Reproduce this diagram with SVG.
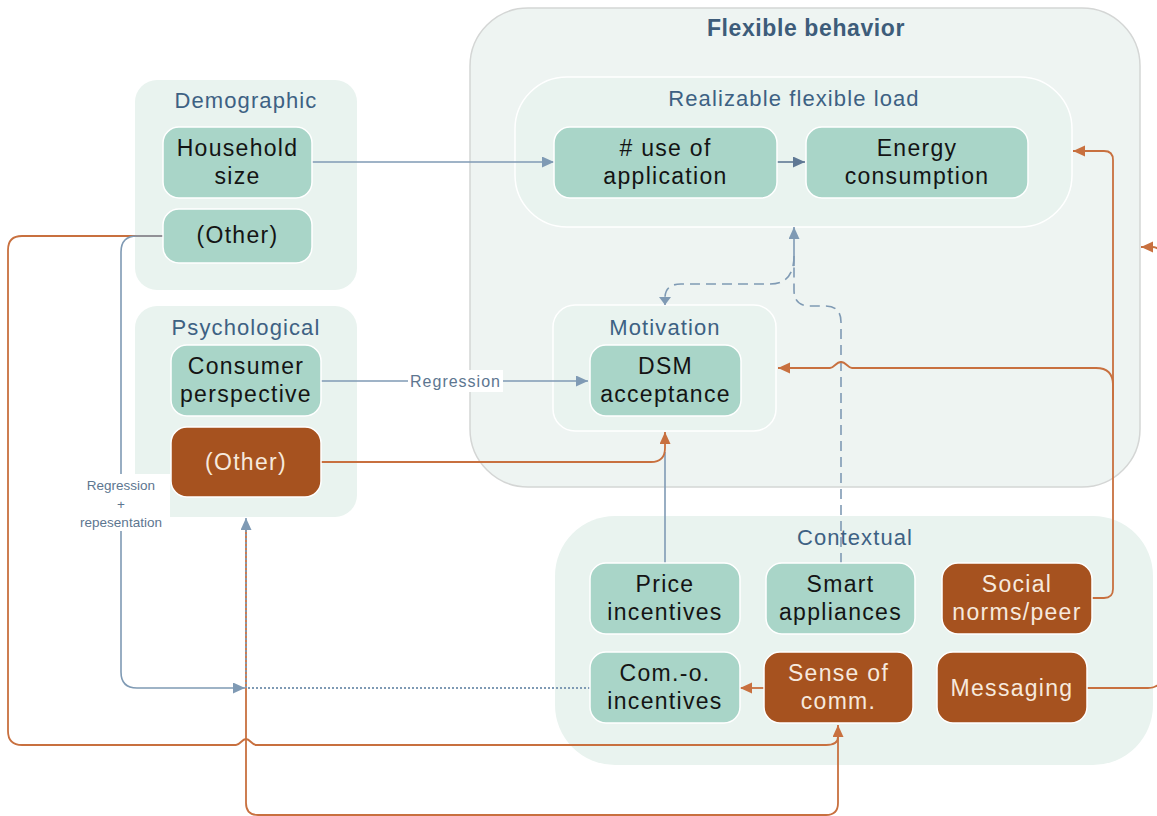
<svg xmlns="http://www.w3.org/2000/svg" width="1157" height="816" viewBox="0 0 1157 816">
  <style>
    .panel { fill: #e9f3ef; }
    .panel-edge { fill: #e9f3ef; stroke: #ffffff; stroke-width: 1.5; }
    .outer { fill: #eef4f2; stroke: #d4d6d5; stroke-width: 1.5; }
    .node-g rect { fill: #a9d5c8; stroke: #ffffff; stroke-width: 1.5; }
    .node-b rect { fill: #a6521f; stroke: #ffffff; stroke-width: 1.5; }
    text { font-family: "Liberation Sans", Arial, sans-serif; text-anchor: middle; }
    .node-g text { font-size: 23px; fill: #141414; letter-spacing: 1.3px; }
    .node-b text { font-size: 23px; fill: #f6e9dd; letter-spacing: 1.3px; }
    .title { font-size: 22px; fill: #3d6183; letter-spacing: 1.1px; }
    .main-title { font-size: 23px; font-weight: bold; fill: #3d5c7a; letter-spacing: 0.6px; }
    .lbl { fill: #5d7690; }
    .blue { fill: none; stroke: #7f9ab4; stroke-width: 1.6; }
    .blue-dash { fill: none; stroke: #7f9ab4; stroke-width: 1.6; stroke-dasharray: 10 6; }
    .blue-dot { fill: none; stroke: #7f9ab4; stroke-width: 1.8; stroke-dasharray: 2 2; }
    .dark { fill: none; stroke: #5f7894; stroke-width: 1.6; }
    .orange { fill: none; stroke: #c8703f; stroke-width: 1.8; }
  </style>
  <defs>
    <marker id="arrow-blue" markerUnits="userSpaceOnUse" markerWidth="13" markerHeight="12" refX="12" refY="5.5" orient="auto">
      <path d="M0,0 L12,5.5 L0,11 z" fill="#7f9ab4"/>
    </marker>
    <marker id="arrow-blue-small" markerUnits="userSpaceOnUse" markerWidth="9" markerHeight="13" refX="8" refY="6" orient="auto">
      <path d="M0,0 L8,6 L0,12 z" fill="#7f9ab4"/>
    </marker>
    <marker id="arrow-dark" markerUnits="userSpaceOnUse" markerWidth="13" markerHeight="12" refX="12" refY="5.5" orient="auto">
      <path d="M0,0 L12,5.5 L0,11 z" fill="#5f7894"/>
    </marker>
    <marker id="arrow-orange" markerUnits="userSpaceOnUse" markerWidth="13" markerHeight="12" refX="12" refY="5.5" orient="auto">
      <path d="M0,0 L12,5.5 L0,11 z" fill="#c8703f"/>
    </marker>
  </defs>

  <!-- containers -->
  <g id="flexible-behavior">
    <rect class="outer" x="470" y="8" width="670" height="479" rx="58"/>
    <text class="main-title" x="806" y="36">Flexible behavior</text>
  </g>
  <g id="realizable-load">
    <rect class="panel-edge" x="515" y="77" width="557" height="150" rx="52"/>
    <text class="title" x="794" y="106">Realizable flexible load</text>
  </g>
  <g id="demographic">
    <rect class="panel" x="135" y="80" width="222" height="210" rx="22"/>
    <text class="title" x="246" y="108">Demographic</text>
  </g>
  <g id="psychological">
    <rect class="panel" x="135" y="306" width="222" height="211" rx="22"/>
    <text class="title" x="246" y="335">Psychological</text>
  </g>
  <g id="motivation">
    <rect class="panel-edge" x="553" y="305" width="223" height="126" rx="22"/>
    <text class="title" x="665" y="335">Motivation</text>
  </g>
  <g id="contextual">
    <rect class="panel" x="555" y="516" width="598" height="249" rx="60"/>
    <text class="title" x="855" y="545">Contextual</text>
  </g>

  <!-- connectors -->
  <g id="connectors">
    <path class="blue" d="M312,162 H554" marker-end="url(#arrow-blue)"/>
    <path class="dark" d="M777,162 H805" marker-end="url(#arrow-dark)"/>
    <path class="blue" d="M321,381 H588" marker-end="url(#arrow-blue)"/>
    <rect x="408" y="370" width="95" height="22" fill="#ffffff"/>
    <text class="lbl" x="455.5" y="387" font-size="16" letter-spacing="1">Regression</text>

    <!-- price incentives up to DSM acceptance -->
    <path class="blue" d="M665,563 V452"/>
    <path class="orange" d="M321,462 H651 Q665,462 665,448 V432" marker-end="url(#arrow-orange)"/>

    <!-- smart appliances / motivation with the realizable load -->
    <path class="blue-dash" d="M841,563 V322 Q841,306 825,306 H810 Q794,306 794,290 V262"/>
    <path class="blue" d="M794,266 V227" marker-end="url(#arrow-blue)"/>
    <path class="blue-dash" d="M794,256 Q794,284 770,284 H681 Q665,284 665,298 V305" marker-end="url(#arrow-blue-small)"/>

    <!-- social norms -->
    <path class="orange" d="M1092,598 H1104 Q1113,598 1113,589 V160 Q1113,151 1104,151 H1073" marker-end="url(#arrow-orange)"/>
    <path class="orange" d="M1113,400 V385 Q1113,368 1096,368 H852 C848,368 846,362 841,362 C836,362 834,368 830,368 H778" marker-end="url(#arrow-orange)"/>

    <!-- messaging -->
    <path class="orange" d="M1087,688 H1148 Q1162,688 1162,674 V260 Q1162,247 1152,247 H1141" marker-end="url(#arrow-orange)"/>

    <!-- sense of community loops -->
    <path class="orange" d="M246,530 V803 Q246,815 258,815 H826 Q838,815 838,803 V737"/>
    <path class="orange" d="M163,236 H22 Q8,236 8,250 V731 Q8,745 22,745 H236 C240,745 242,739 246,739 C250,739 252,745 256,745 H826 Q838,745 838,737 V725" marker-end="url(#arrow-orange)"/>
    <path class="orange" d="M764,688 H740" marker-end="url(#arrow-orange)"/>

    <!-- regression + representation -->
    <path class="blue" d="M163,236 H137 Q121,236 121,252 V672 Q121,688 137,688 H245" marker-end="url(#arrow-blue)"/>
    <rect x="72" y="474" width="98" height="57" fill="#ffffff"/>
    <text class="lbl" x="121" y="490" font-size="13.5">Regression</text>
    <text class="lbl" x="121" y="509" font-size="13.5">+</text>
    <text class="lbl" x="121" y="527" font-size="13.5">repesentation</text>

    <!-- community-oriented incentives back to psychological -->
    <path class="blue-dot" d="M590,688 H246 V531"/>
    <path class="blue" d="M246,532 V518" marker-end="url(#arrow-blue)"/>
  </g>

  <!-- nodes -->
  <g id="household-size" class="node-g">
    <rect x="163" y="127" width="149" height="71" rx="16"/>
    <text x="237.5" y="156">Household</text>
    <text x="237.5" y="184">size</text>
  </g>
  <g id="demographic-other" class="node-g">
    <rect x="163" y="209" width="149" height="54" rx="16"/>
    <text x="237.5" y="243">(Other)</text>
  </g>
  <g id="consumer-perspective" class="node-g">
    <rect x="171" y="345" width="150" height="71" rx="16"/>
    <text x="246" y="374">Consumer</text>
    <text x="246" y="402">perspective</text>
  </g>
  <g id="psychological-other" class="node-b">
    <rect x="171" y="427" width="150" height="70" rx="16"/>
    <text x="246" y="470">(Other)</text>
  </g>
  <g id="use-of-application" class="node-g">
    <rect x="554" y="127" width="223" height="71" rx="16"/>
    <text x="665.5" y="156"># use of</text>
    <text x="665.5" y="184">application</text>
  </g>
  <g id="energy-consumption" class="node-g">
    <rect x="806" y="127" width="222" height="71" rx="16"/>
    <text x="917" y="156">Energy</text>
    <text x="917" y="184">consumption</text>
  </g>
  <g id="dsm-acceptance" class="node-g">
    <rect x="590" y="345" width="151" height="71" rx="16"/>
    <text x="665.5" y="374">DSM</text>
    <text x="665.5" y="402">acceptance</text>
  </g>
  <g id="price-incentives" class="node-g">
    <rect x="590" y="563" width="150" height="71" rx="16"/>
    <text x="665" y="592">Price</text>
    <text x="665" y="620">incentives</text>
  </g>
  <g id="smart-appliances" class="node-g">
    <rect x="766" y="563" width="149" height="71" rx="16"/>
    <text x="840.5" y="592">Smart</text>
    <text x="840.5" y="620">appliances</text>
  </g>
  <g id="social-norms" class="node-b">
    <rect x="942" y="563" width="150" height="71" rx="16"/>
    <text x="1017" y="592">Social</text>
    <text x="1017" y="620">norms/peer</text>
  </g>
  <g id="com-o-incentives" class="node-g">
    <rect x="590" y="652" width="150" height="71" rx="16"/>
    <text x="665" y="681">Com.-o.</text>
    <text x="665" y="709">incentives</text>
  </g>
  <g id="sense-of-community" class="node-b">
    <rect x="764" y="652" width="149" height="71" rx="16"/>
    <text x="838.5" y="681">Sense of</text>
    <text x="838.5" y="709">comm.</text>
  </g>
  <g id="messaging" class="node-b">
    <rect x="937" y="652" width="150" height="71" rx="16"/>
    <text x="1012" y="696">Messaging</text>
  </g>
</svg>
